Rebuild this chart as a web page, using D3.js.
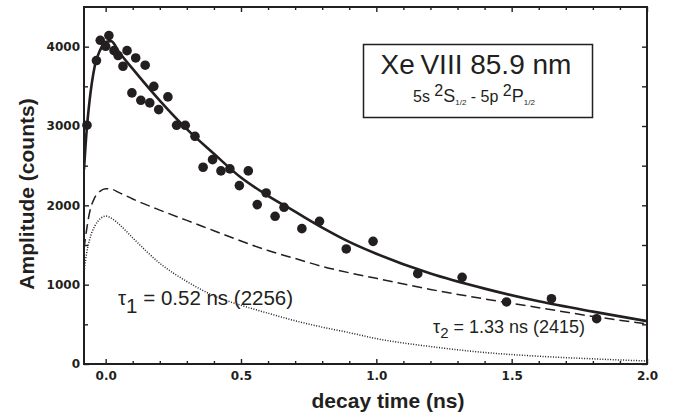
<!DOCTYPE html>
<html lang="en">
<head>
<meta charset="UTF-8">
<script src="https://d3js.org/d3.v7.min.js"></script>
<title>Xe VIII 85.9 nm decay</title>
<style>
    body { margin: 0; background: #fff; }
    svg { display: block; }
    .tick text { font-family: "DejaVu Sans", sans-serif; font-weight: bold; font-size: 12px; fill: #231f20; }
    .tick line { stroke: #231f20; stroke-width: 1.4; }
    .lbl { font-family: "Liberation Sans", Arial, sans-serif; fill: #231f20; }
</style>
</head>
<body>
<div id="app"></div>
<script>
    const svg_width = 675
    const svg_height = 417
    const margin = { left: 84, right: 28, top: 7, bottom: 53 }
    const ink = '#231f20'

    // measured points
    var times = [-0.069, -0.034, -0.02, 0.0, 0.012, 0.031, 0.046, 0.064, 0.079, 0.097, 0.111, 0.13, 0.146, 0.163,
        0.178, 0.196, 0.23, 0.262, 0.294, 0.33, 0.36, 0.395, 0.426, 0.459, 0.494, 0.527, 0.56, 0.593, 0.626, 0.659,
        0.725, 0.79, 0.889, 0.988, 1.153, 1.317, 1.481, 1.647, 1.814]
    var counts = [3010, 3825, 4080, 4005, 4140, 3950, 3888, 3753, 3950, 3417, 3858, 3324, 3766, 3291,
        3500, 3207, 3367, 3009, 3009, 2870, 2480, 2576, 2434, 2459, 2249, 2434, 2009, 2156, 1862, 1975,
        1706, 1798, 1450, 1546, 1139, 1092, 782, 823, 571]

    // fit curves
    var curve_t = [-0.08, -0.07, -0.06, -0.04, -0.02, 0.0, 0.02, 0.05, 0.1, 0.2, 0.3, 0.4, 0.5, 0.6, 0.7, 0.8, 0.9, 1.0,
        1.2, 1.4, 1.6, 1.8, 2.0]
    var fit_total = [2450, 2950, 3300, 3760, 3960, 4060, 4070, 3930, 3720, 3320, 2960, 2650, 2350, 2120, 1920, 1720, 1540, 1390,
        1140, 950, 790, 660, 540]
    var fit_slow = [1450, 1700, 1900, 2100, 2180, 2210, 2205, 2160, 2080, 1940, 1810, 1680, 1550, 1430, 1330, 1230, 1150, 1080,
        940, 820, 710, 600, 505]
    var fit_fast = [1170, 1400, 1560, 1740, 1830, 1865, 1840, 1760, 1590, 1270, 1040, 860, 740, 640, 545, 465, 395, 320,
        220, 145, 98, 65, 38]

    var x_major = [0, 0.5, 1.0, 1.5, 2.0]
    var x_minor = [0.1, 0.2, 0.3, 0.4, 0.6, 0.7, 0.8, 0.9, 1.1, 1.2, 1.3, 1.4, 1.6, 1.7, 1.8, 1.9]
    var y_major = [0, 1000, 2000, 3000, 4000]
    var y_minor = [500, 1500, 2500, 3500]

    var svg = d3.select('#app')
        .append('svg')
        .attr('width', svg_width)
        .attr('height', svg_height)

    var x_scale = d3.scaleLinear()
        .domain([-0.08, 2.0])
        .range([margin.left, svg_width - margin.right])
    var y_scale = d3.scaleLinear()
        .domain([0, 4500])
        .range([svg_height - margin.bottom, margin.top])

    var x0 = margin.left, x1 = svg_width - margin.right
    var y0 = svg_height - margin.bottom, y1 = margin.top

    function addAxis(axis, tx, ty) {
        var g = svg.append('g')
            .attr('transform', 'translate(' + tx + ',' + ty + ')')
            .call(axis)
        g.select('.domain').remove()
        return g
    }

    // bottom / left with labels, ticks pointing in
    addAxis(d3.axisBottom(x_scale).tickValues(x_major).tickFormat(d3.format('.1f')).tickSizeInner(-5).tickSizeOuter(0).tickPadding(7), 0, y0)
    addAxis(d3.axisBottom(x_scale).tickValues(x_minor).tickFormat('').tickSizeInner(-3).tickSizeOuter(0), 0, y0)
    addAxis(d3.axisLeft(y_scale).tickValues(y_major).tickFormat(d3.format('d')).tickSizeInner(-5).tickSizeOuter(0).tickPadding(4), x0, 0)
    addAxis(d3.axisLeft(y_scale).tickValues(y_minor).tickFormat('').tickSizeInner(-4).tickSizeOuter(0), x0, 0)
    // top / right mirror ticks
    addAxis(d3.axisTop(x_scale).tickValues(x_major).tickFormat('').tickSizeInner(-5).tickSizeOuter(0), 0, y1)
    addAxis(d3.axisTop(x_scale).tickValues(x_minor).tickFormat('').tickSizeInner(-3).tickSizeOuter(0), 0, y1)
    addAxis(d3.axisRight(y_scale).tickValues(y_major.concat(y_minor)).tickFormat('').tickSizeInner(-5).tickSizeOuter(0), x1, 0)

    svg.append('rect')
        .attr('x', x0)
        .attr('y', y1)
        .attr('width', x1 - x0)
        .attr('height', y0 - y1)
        .attr('fill', 'none')
        .attr('stroke', ink)
        .attr('stroke-width', 2)

    svg.append('clipPath').attr('id', 'plot_clip')
        .append('rect')
        .attr('x', x0).attr('y', y1).attr('width', x1 - x0).attr('height', y0 - y1)

    var line = d3.line()
        .x(function (d) { return x_scale(d[0]) })
        .y(function (d) { return y_scale(d[1]) })
        .curve(d3.curveMonotoneX)

    var curves = svg.append('g').attr('clip-path', 'url(#plot_clip)')

    curves.append('path')
        .datum(d3.zip(curve_t, fit_fast))
        .attr('d', line)
        .attr('fill', 'none')
        .attr('stroke', ink)
        .attr('stroke-width', 1.5)
        .attr('stroke-dasharray', '1,1.6')

    curves.append('path')
        .datum(d3.zip(curve_t, fit_slow))
        .attr('d', line)
        .attr('fill', 'none')
        .attr('stroke', ink)
        .attr('stroke-width', 1.5)
        .attr('stroke-dasharray', '10,5')

    curves.append('path')
        .datum(d3.zip(curve_t, fit_total))
        .attr('d', line)
        .attr('fill', 'none')
        .attr('stroke', ink)
        .attr('stroke-width', 2.6)

    svg.append('g')
        .selectAll('circle')
        .data(d3.zip(times, counts))
        .enter()
        .append('circle')
        .attr('cx', function (d) { return x_scale(d[0]) })
        .attr('cy', function (d) { return y_scale(d[1]) })
        .attr('r', 4.8)
        .attr('fill', ink)

    // axis titles
    svg.append('text')
        .attr('class', 'lbl')
        .attr('x', 388)
        .attr('y', 408)
        .attr('text-anchor', 'middle')
        .style('font-size', '21px')
        .style('font-weight', 'bold')
        .text('decay time (ns)')

    svg.append('text')
        .attr('class', 'lbl')
        .attr('transform', 'translate(34,194) rotate(-90)')
        .attr('text-anchor', 'middle')
        .style('font-size', '21px')
        .style('font-weight', 'bold')
        .text('Amplitude (counts)')

    // title box
    svg.append('rect')
        .attr('x', 363.5)
        .attr('y', 44.5)
        .attr('width', 229)
        .attr('height', 73)
        .attr('fill', '#fff')
        .attr('stroke', ink)
        .attr('stroke-width', 1.5)

    svg.append('text')
        .attr('class', 'lbl')
        .attr('x', 476)
        .attr('y', 74)
        .attr('text-anchor', 'middle')
        .style('font-size', '28px')
        .text('Xe\u2009VIII 85.9 nm')

    var sub = svg.append('text')
        .attr('class', 'lbl')
        .attr('x', 413)
        .attr('y', 102)
        .style('font-size', '16px')
    sub.append('tspan').text('5s ')
    sub.append('tspan').attr('dy', -6).text('2')
    sub.append('tspan').attr('dy', 6).style('font-size', '18px').text('S')
    sub.append('tspan').attr('dy', 3).style('font-size', '8px').text('1/2')
    sub.append('tspan').attr('dy', -3).text(' - 5p ')
    sub.append('tspan').attr('dy', -6).text('2')
    sub.append('tspan').attr('dy', 6).style('font-size', '18px').text('P')
    sub.append('tspan').attr('dy', 3).style('font-size', '8px').text('1/2')

    // lifetimes
    var t1 = svg.append('text')
        .attr('class', 'lbl')
        .attr('x', 118)
        .attr('y', 305)
        .style('font-size', '20.5px')
    t1.append('tspan').text('\u03c4')
    t1.append('tspan').attr('dy', 8).text('1')
    t1.append('tspan').attr('dy', -8).text(' = 0.52 ns (2256)')

    var t2 = svg.append('text')
        .attr('class', 'lbl')
        .attr('x', 433)
        .attr('y', 333)
        .style('font-size', '18px')
    t2.append('tspan').text('\u03c4')
    t2.append('tspan').attr('dy', 5).style('font-size', '15px').text('2')
    t2.append('tspan').attr('dy', -5).text(' = 1.33 ns (2415)')
</script>
</body>
</html>
